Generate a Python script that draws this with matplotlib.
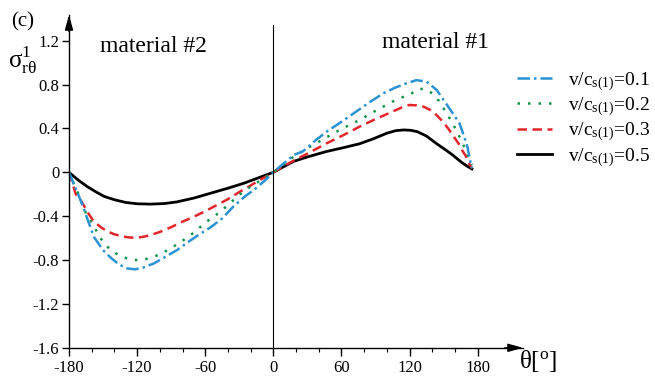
import numpy as np
import matplotlib
matplotlib.use("Agg")
import matplotlib.pyplot as plt
from matplotlib.ticker import FuncFormatter, MultipleLocator

plt.rcParams['font.family'] = ['Liberation Serif', 'DejaVu Serif']
plt.rcParams['mathtext.fontset'] = 'custom'
plt.rcParams['mathtext.rm'] = 'Liberation Serif'
plt.rcParams['mathtext.it'] = 'Liberation Serif:italic'
plt.rcParams['mathtext.bf'] = 'Liberation Serif:bold'
plt.rcParams['axes.unicode_minus'] = False

# v/c = 0.1
th_01 = [-180, -176, -172, -168, -164, -158, -150, -143, -136, -129, -122, -115, -105, -95, -85,
         -75, -65, -55, -45, -35, -25, -17, -8, 0, 9, 18, 26, 37, 47, 60, 73, 85, 97, 107, 117,
         126, 135, 144, 152, 158, 164, 168, 171, 173, 175]
s_01 = [0, -0.1, -0.2, -0.3, -0.42, -0.59, -0.71, -0.78, -0.84, -0.875, -0.885, -0.87, -0.83,
        -0.77, -0.71, -0.635, -0.565, -0.50, -0.42, -0.31, -0.22, -0.16, -0.08, 0, 0.08, 0.158,
        0.19, 0.29, 0.37, 0.46, 0.553, 0.64, 0.72, 0.77, 0.81, 0.84, 0.827, 0.75, 0.63, 0.54,
        0.447, 0.33, 0.234, 0.128, 0.036]

# v/c = 0.2
th_02 = [-180, -176, -172, -168, -164, -159, -154, -149, -142, -135, -128, -122, -116, -110, -100,
         -90, -80, -70, -60, -50, -40, -30, -20, -10, 0, 9, 18, 27, 35, 44, 53, 65, 76, 90, 105,
         115, 122, 128, 134, 140, 146, 152, 158, 164, 170, 175]
s_02 = [0, -0.1, -0.19, -0.3, -0.4, -0.47, -0.57, -0.65, -0.72, -0.76, -0.79, -0.80, -0.80,
        -0.785, -0.75, -0.69, -0.625, -0.55, -0.46, -0.385, -0.30, -0.205, -0.13, -0.065, 0,
        0.07, 0.143, 0.2, 0.25, 0.30, 0.356, 0.42, 0.477, 0.56, 0.644, 0.69, 0.72, 0.76, 0.76,
        0.72, 0.65, 0.55, 0.447, 0.325, 0.19, 0.067]

# v/c = 0.3
th_03 = [-180, -177, -174, -170, -166, -162, -158, -152, -146, -140, -133, -126, -120, -113, -106,
         -99, -90, -80, -70, -60, -50, -40, -30, -20, -10, 0, 9, 18, 30, 47, 62, 76, 90, 105, 113,
         120, 126, 132, 138, 144, 150, 155, 160, 164, 167, 170, 172, 175]
s_03 = [0, -0.1, -0.2, -0.25, -0.32, -0.39, -0.45, -0.5, -0.54, -0.565, -0.585, -0.595, -0.596,
        -0.585, -0.565, -0.54, -0.5, -0.45, -0.405, -0.355, -0.30, -0.245, -0.18, -0.12, -0.06,
        0, 0.055, 0.106, 0.17, 0.264, 0.34, 0.416, 0.485, 0.553, 0.59, 0.614, 0.61, 0.60, 0.57,
        0.52, 0.455, 0.386, 0.31, 0.25, 0.19, 0.143, 0.09, 0.036]

# v/c = 0.5
th_05 = [-180, -172, -164, -156, -149, -140, -130, -120, -108, -96, -85, -70, -55, -40, -26, -13,
         0, 9, 18, 30, 47, 62, 76, 88, 100, 108, 115, 121, 127, 135, 144, 151, 158, 163, 167,
         171, 175]
s_05 = [0, -0.07, -0.13, -0.18, -0.22, -0.25, -0.275, -0.287, -0.29, -0.285, -0.27, -0.235,
        -0.19, -0.145, -0.1, -0.05, 0, 0.05, 0.1, 0.14, 0.19, 0.225, 0.26, 0.305, 0.356, 0.38,
        0.386, 0.383, 0.37, 0.33, 0.26, 0.21, 0.158, 0.115, 0.082, 0.055, 0.03]

labels = ['v/c$_{\\mathrm{s(1)}}$=0.1', 'v/c$_{\\mathrm{s(1)}}$=0.2',
          'v/c$_{\\mathrm{s(1)}}$=0.3', 'v/c$_{\\mathrm{s(1)}}$=0.5']
xticks = [-180, -120, -60, 0, 60, 120, 180]
yticks = [-1.6, -1.2, -0.8, -0.4, 0, 0.4, 0.8, 1.2]

W, H = 655, 378
fig = plt.figure(figsize=(6.55, 3.78), dpi=100)
ax = fig.add_axes([69 / W, 30.2 / H, 454 / W, 332.8 / H])
ax.set_xlim(-180, 220)
ax.set_ylim(-1.6, 1.434)

lw = 1.8
l5, = ax.plot(th_05, s_05, color='black', lw=2.0, label=labels[3])
l3, = ax.plot(th_03, s_03, color='#e3262b', lw=lw, dashes=(3.8, 2.2), label=labels[2])
l2, = ax.plot(th_02, s_02, color='#12924a', lw=lw, dashes=(1, 3.2), label=labels[1])
l1, = ax.plot(th_01, s_01, color='#2b93d3', lw=lw, dashes=(5, 1.6, 1, 1.6), label=labels[0])

ax.plot([0, 0], [-1.6, 1.343], color='black', lw=0.8)

for s in ['top', 'right']:
    ax.spines[s].set_visible(False)
ax.spines['left'].set_linewidth(1.0)
ax.spines['bottom'].set_linewidth(1.0)
ax.annotate('', xy=(1, 0), xytext=(0.96, 0), xycoords='axes fraction',
            arrowprops=dict(arrowstyle='-|>,head_length=0.9,head_width=0.25', color='black',
                            lw=1.0, shrinkA=0, shrinkB=0), annotation_clip=False)
ax.annotate('', xy=(0, 1), xytext=(0, 0.95), xycoords='axes fraction',
            arrowprops=dict(arrowstyle='-|>,head_length=0.9,head_width=0.25', color='black',
                            lw=1.0, shrinkA=0, shrinkB=0), annotation_clip=False)

ax.set_xticks(xticks)
ax.set_xticks([t for t in range(-160, 181, 20) if t % 60 != 0], minor=True)
ax.set_yticks(yticks)
fmt = lambda v, p: '0' if abs(v) < 1e-9 else ('%.1f' % v)
ax.yaxis.set_major_formatter(FuncFormatter(fmt))
ax.tick_params(axis='x', which='major', direction='out', length=6, width=1.0, pad=3, labelsize=12)
ax.tick_params(axis='x', which='minor', direction='out', length=3, width=0.8)
ax.tick_params(axis='y', which='major', direction='out', length=5, width=1.0, pad=2, labelsize=12)

def px(x, y):
    return x / W, 1 - y / H

fig.text(*px(153, 47), 'material #2', fontsize=17, ha='center', va='center')
fig.text(*px(435, 42), 'material #1', fontsize=17, ha='center', va='center')
fig.text(*px(23, 22), '(c)', fontsize=15, ha='center', va='center')
fig.text(*px(8, 60), '$\\mathrm{σ}^{1}_{\\mathrm{rθ}}$', fontsize=18, ha='left', va='center')
fig.text(*px(519, 361), '$\\mathrm{θ}[^{\\mathrm{o}}]$', fontsize=18, ha='left', va='center')

fig.legend(handles=[l1, l2, l3, l5], labels=labels, loc='upper left',
           bbox_to_anchor=px(517, 70), frameon=False, fontsize=14, handlelength=1.8,
           handletextpad=0.8, labelspacing=0.15, borderpad=0, borderaxespad=0)

fig.savefig('out.png', dpi=100)
